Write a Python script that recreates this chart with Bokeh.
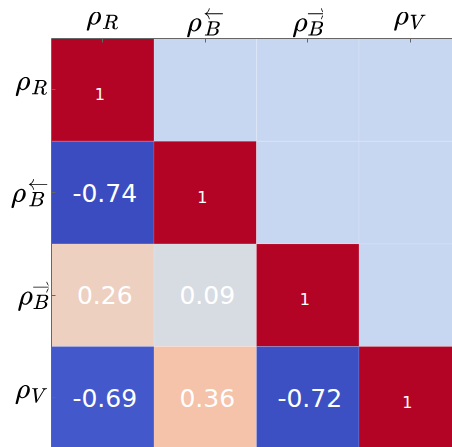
import numpy as np
from bokeh.plotting import figure
from bokeh.models import ColumnDataSource, LinearColorMapper, Range1d, FixedTicker, LinearAxis
from bokeh.core.properties import value
from bokeh.transform import transform
from bokeh.embed import file_html
from bokeh.resources import INLINE

# ---- data ----
labels = [r"$$\rho_R$$", r"$$\rho\lower{0.15em}{\scriptstyle\overleftarrow{B}}$$",
          r"$$\rho\lower{0.15em}{\scriptstyle\overrightarrow{B}}$$", r"$$\rho_V$$"]
row_R = [1.0, 0.0, 0.0, 0.0]
row_Bl = [-0.74, 1.0, 0.0, 0.0]
row_Br = [0.26, 0.09, 1.0, 0.0]
row_V = [-0.69, 0.36, -0.72, 1.0]
rows = [row_R, row_Bl, row_Br, row_V]

# ---- coolwarm colormap (style) ----
anchors = [
    (59, 76, 192), (68, 90, 204), (77, 104, 215), (87, 117, 225), (98, 130, 234),
    (108, 142, 241), (119, 154, 247), (130, 165, 251), (141, 176, 254), (152, 185, 255),
    (163, 194, 255), (174, 201, 253), (184, 208, 249), (194, 213, 244), (204, 217, 238),
    (213, 219, 230), (221, 221, 221), (229, 216, 209), (236, 211, 197), (241, 204, 185),
    (245, 196, 173), (247, 187, 160), (247, 177, 148), (247, 166, 135), (244, 154, 123),
    (241, 141, 111), (236, 127, 99), (229, 112, 88), (222, 96, 77), (213, 80, 66),
    (203, 62, 56), (192, 40, 47), (180, 4, 38)]
a = np.array(anchors, dtype=float)
s_anchor = np.linspace(0, 1, len(anchors))
s = np.linspace(0, 1, 256)
palette = ["#%02x%02x%02x" % tuple(int(round(np.interp(t, s_anchor, a[:, k]))) for k in range(3)) for t in s]

n = len(rows)
xs, ys, vals = [], [], []
for i, r in enumerate(rows):
    for j, v in enumerate(r):
        xs.append(j); ys.append(i); vals.append(v)
allv = np.array(vals)
mapper = LinearColorMapper(palette=palette, low=allv.min(), high=allv.max())
src = ColumnDataSource(dict(x=xs, y=ys, v=vals))

tx_big, ty_big, tt_big = [], [], []
tx_d, ty_d, tt_d = [], [], []
for i, r in enumerate(rows):
    for j, v in enumerate(r):
        if i == j:
            tx_d.append(j); ty_d.append(i); tt_d.append("%g" % v)
        elif j < i:
            tx_big.append(j); ty_big.append(i); tt_big.append("%.2f" % v)

cell_px_x = 102.5
cell_px_y = 102.7
W, H = 452, 447
bl, bt = 51, 38
fw, fh = W - bl, H - bt

p = figure(width=W, height=H, output_backend="svg", toolbar_location=None,
           x_range=Range1d(-0.5, -0.5 + fw / cell_px_x),
           y_range=Range1d(-0.5 + fh / cell_px_y, -0.5),
           x_axis_location=None, y_axis_location=None,
           min_border_left=bl, min_border_top=bt, min_border_right=0, min_border_bottom=0)
p.outline_line_color = None
p.xgrid.visible = False
p.ygrid.visible = False

p.rect(x="x", y="y", width=1, height=1, source=src,
       fill_color=transform("v", mapper), line_color=(255, 255, 255, 0.2), line_width=0.6)

p.text(x=tx_big, y=ty_big, text=tt_big, text_color="white", text_align="center",
       text_baseline="middle", text_font=value("DejaVu Sans"), text_font_size="25px",
       x_offset=2)
p.text(x=tx_d, y=ty_d, text=tt_d, text_color="white", text_align="center",
       text_baseline="middle", text_font=value("DejaVu Sans"), text_font_size="16px",
       x_offset=-3, y_offset=4)

ticks = list(range(n))
overrides = {i: labels[i] for i in range(n)}

xa = LinearAxis(ticker=FixedTicker(ticks=ticks), major_label_overrides=overrides)
ya = LinearAxis(ticker=FixedTicker(ticks=ticks), major_label_overrides=overrides)
for ax in (xa, ya):
    ax.major_tick_in = 4
    ax.major_tick_out = 0
    ax.minor_tick_line_color = None
    ax.axis_line_color = "#666666"
    ax.major_tick_line_color = "#666666"
    ax.major_label_text_font_size = "23px"
    ax.major_label_text_color = "black"
xa.major_label_standoff = 1
ya.major_label_standoff = 3
p.add_layout(xa, "above")
p.add_layout(ya, "left")

open("out.html", "w").write(file_html(p, INLINE))
